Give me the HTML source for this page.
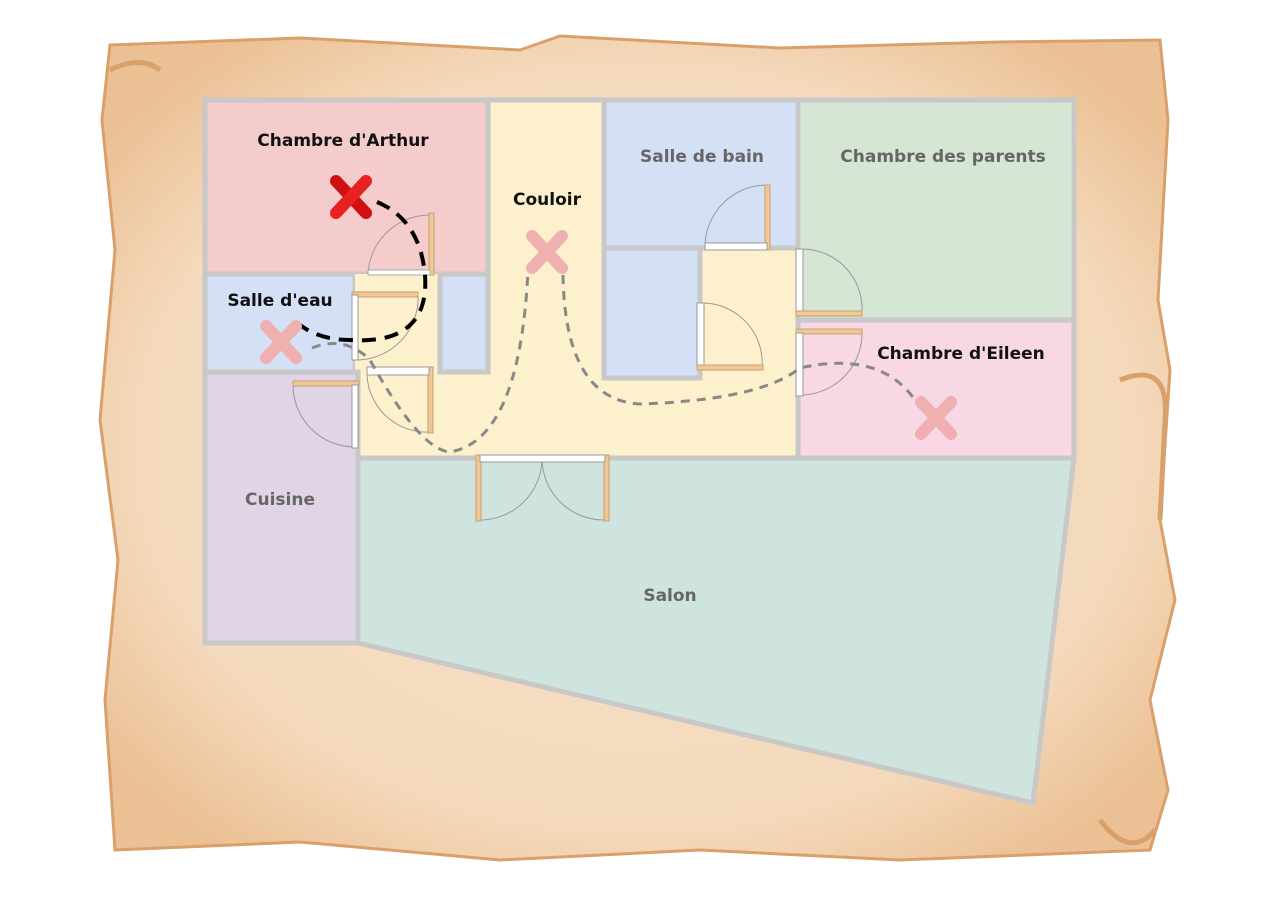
<!DOCTYPE html>
<html><head><meta charset="utf-8"><style>
html,body{margin:0;padding:0;background:#fff;width:1280px;height:906px;overflow:hidden}
svg{display:block}
text{font-family:"DejaVu Sans","Liberation Sans",sans-serif;font-weight:bold;font-size:17px;text-anchor:middle}
</style></head><body>
<svg width="1280" height="906" viewBox="0 0 1280 906">
<defs>
<radialGradient id="parch" cx="50%" cy="50%" r="62%">
<stop offset="0" stop-color="#f8e3cc"/><stop offset="0.75" stop-color="#f4d9bb"/><stop offset="1" stop-color="#ebc094"/>
</radialGradient>
</defs>
<g>
<path d="M110,45 L300,38 L520,50 L560,36 L780,48 L1000,42 L1160,40 L1168,120 L1158,300 L1170,370 L1160,520 L1175,600 L1150,700 L1168,790 L1150,850 L900,860 L700,850 L500,860 L300,842 L115,850 L105,700 L118,560 L100,420 L115,250 L102,120 Z" fill="url(#parch)" stroke="#d9a06a" stroke-width="3"/>
<path d="M1120,380 Q1170,360 1165,420 L1160,520" fill="none" stroke="#d9a06a" stroke-width="5"/>
<path d="M1100,820 Q1130,860 1155,830" fill="none" stroke="#d9a06a" stroke-width="5"/>
<path d="M110,70 Q140,55 160,70" fill="none" stroke="#d9a06a" stroke-width="5"/>
</g>
<g stroke="#c8c8c8" stroke-width="5">
<polygon points="358,458 1074,458 1033,803 358,643" fill="#cfe3df"/>
<rect x="205" y="100" width="283" height="174" fill="#f5cccc"/>
<rect x="488" y="100" width="116" height="358" fill="#fdf0cc"/>
<rect x="358" y="372" width="440" height="86" fill="#fdf0cc" stroke="none"/>
<rect x="700" y="248" width="98" height="210" fill="#fdf0cc" stroke="none"/>
<rect x="604" y="100" width="194" height="148" fill="#d4e0f5"/>
<rect x="604" y="248" width="96" height="130" fill="#d4e0f5"/>
<rect x="798" y="100" width="276" height="220" fill="#d5e6d5"/>
<rect x="798" y="320" width="276" height="138" fill="#f8d8e5"/>
<rect x="205" y="274" width="150" height="98" fill="#d4e0f5"/>
<rect x="355" y="274" width="85" height="98" fill="#fdf0cc" stroke="none"/>
<rect x="440" y="274" width="48" height="98" fill="#d4e0f5"/>
<rect x="205" y="372" width="153" height="271" fill="#e0d4e6"/>
<line x1="798" y1="248" x2="798" y2="458"/><line x1="358" y1="458" x2="798" y2="458"/>
</g>
<g fill="none" stroke="#999" stroke-width="1">
<path d="M432,215 A62,62 0 0 0 368,274"/><rect x="429" y="213" width="5" height="62" fill="#f0c898" stroke="#c9a070"/><rect x="368" y="270" width="62" height="5" fill="#fff" stroke="#aaa"/>
<path d="M352,295 L418,295 A62,62 0 0 1 358,360"/><rect x="352" y="292" width="66" height="5" fill="#f0c898" stroke="#c9a070"/><rect x="352" y="295" width="6" height="65" fill="#fff"/>
<path d="M367,375 A60,60 0 0 0 430,432"/><rect x="428" y="367" width="5" height="66" fill="#f0c898" stroke="#c9a070"/><rect x="367" y="367" width="62" height="8" fill="#fff"/>
<path d="M293,385 A62,62 0 0 0 355,447"/><rect x="293" y="381" width="66" height="5" fill="#f0c898" stroke="#c9a070"/><rect x="352" y="385" width="6" height="63" fill="#fff"/>
<path d="M768,185 A62,62 0 0 0 705,248"/><rect x="765" y="185" width="5" height="65" fill="#f0c898" stroke="#c9a070"/><rect x="705" y="243" width="62" height="7" fill="#fff"/>
<path d="M703,303 A60,60 0 0 1 762,368"/><rect x="697" y="303" width="7" height="65" fill="#fff"/><rect x="697" y="365" width="66" height="5" fill="#f0c898" stroke="#c9a070"/>
<path d="M803,249 A60,60 0 0 1 862,312"/><rect x="796" y="249" width="7" height="64" fill="#fff"/><rect x="796" y="311" width="66" height="5" fill="#f0c898" stroke="#c9a070"/>
<path d="M862,330 A62,62 0 0 1 803,395"/><rect x="796" y="329" width="66" height="5" fill="#f0c898" stroke="#c9a070"/><rect x="796" y="333" width="7" height="63" fill="#fff"/>
<path d="M480,520 A62,62 0 0 0 542,460 A62,62 0 0 0 606,520"/>
<rect x="476" y="455" width="5" height="66" fill="#f0c898" stroke="#c9a070"/><rect x="604" y="455" width="5" height="66" fill="#f0c898" stroke="#c9a070"/>
<rect x="480" y="455" width="125" height="7" fill="#fff"/>
</g>
<g fill="none" stroke-linecap="butt">
<path d="M377,202 Q420,220 425,275 Q430,345 350,340 Q320,340 300,325" stroke="#000" stroke-width="4" stroke-dasharray="14,9"/>
<path d="M312,348 Q345,335 370,360 Q420,450 450,452 Q520,440 528,270" stroke="#888" stroke-width="3" stroke-dasharray="9,7"/>
<path d="M563,275 Q565,400 640,404 Q760,400 800,368 Q880,350 915,400" stroke="#888" stroke-width="3" stroke-dasharray="9,7"/>
</g>
<g stroke-linecap="round">
<g stroke-width="12"><line x1="336" y1="181" x2="366" y2="213" stroke="#d01010"/><line x1="366" y1="181" x2="336" y2="213" stroke="#e82020"/></g>
<g stroke="#f0b0b0" stroke-width="12"><line x1="532" y1="236" x2="562" y2="268"/><line x1="562" y1="236" x2="532" y2="268"/></g>
<g stroke="#f0b0b0" stroke-width="12"><line x1="266" y1="326" x2="296" y2="358"/><line x1="296" y1="326" x2="266" y2="358"/></g>
<g stroke="#f0b0b0" stroke-width="12"><line x1="921" y1="402" x2="951" y2="434"/><line x1="951" y1="402" x2="921" y2="434"/></g>
</g>
<g>
<text x="343" y="146" fill="#111">Chambre d'Arthur</text>
<text x="547" y="205" fill="#111">Couloir</text>
<text x="702" y="162" fill="#666">Salle de bain</text>
<text x="943" y="162" fill="#666">Chambre des parents</text>
<text x="280" y="306" fill="#111">Salle d'eau</text>
<text x="961" y="359" fill="#111">Chambre d'Eileen</text>
<text x="280" y="505" fill="#666">Cuisine</text>
<text x="670" y="601" fill="#666">Salon</text>
</g>
</svg>
</body></html>
